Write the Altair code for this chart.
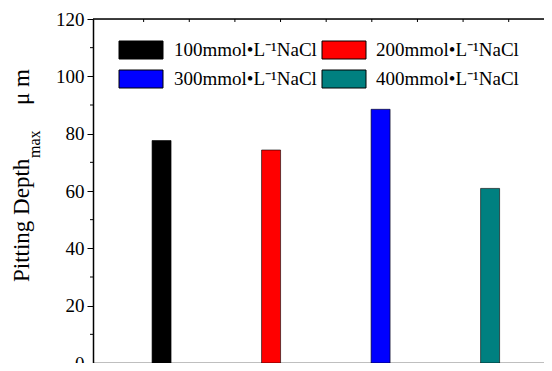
import altair as alt
import pandas as pd

categories = ["100mmol•L⁻¹NaCl", "200mmol•L⁻¹NaCl", "300mmol•L⁻¹NaCl", "400mmol•L⁻¹NaCl"]
positions = [1, 2, 3, 4]
depths = [77.6, 74.3, 88.5, 60.9]
colors = ["#000000", "#FF0000", "#0000FF", "#008080"]
y_ticks = [0, 20, 40, 60, 80, 100, 120]
y_minor = [10, 30, 50, 70, 90, 110]

FONT = "Liberation Serif"
PAD_L, PAD_T = 85, 11
W, H = 536 - PAD_L, 344
px_per_unit = 112.0
x0 = 1 - 65 / px_per_unit
x1 = x0 + W / px_per_unit
step = 46.67 / px_per_unit
x_major = [x0 + step * k for k in range(1, 10)]
x_minor = [x0 + step * (k + 0.5) for k in range(0, 10)]

df = pd.DataFrame({"cat": categories, "pos": positions, "depth": depths})

xscale = alt.Scale(domain=[x0, x1], nice=False, zero=False)
yscale = alt.Scale(domain=[0, 120], nice=False)

bars = alt.Chart(df).mark_bar(size=19, stroke="black", strokeWidth=1, strokeOpacity=0.6).encode(
    x=alt.X("pos:Q", scale=xscale,
            axis=alt.Axis(values=sorted(x_major + x_minor), labels=False, title=None, grid=False,
                          tickSize=3, tickColor="#333", domainColor="black", domainWidth=1.5)),
    y=alt.Y("depth:Q", scale=yscale,
            axis=alt.Axis(values=y_ticks, title=None, grid=False, tickSize=6, tickColor="black",
                          domainColor="black", domainWidth=1.5, labelFont=FONT, labelFontSize=19,
                          labelColor="black", labelPadding=3)),
    color=alt.Color("cat:N", scale=alt.Scale(domain=categories, range=colors), legend=None),
)

one = pd.DataFrame({"a": [0]})

top_line = alt.Chart(one).mark_rule(color="black", strokeWidth=1.5).encode(
    x=alt.value(0), x2=alt.value(W), y=alt.value(0))

top_ticks = alt.Chart(pd.DataFrame({"t": x_major})).mark_rule(color="black", strokeWidth=1).encode(
    x=alt.X("t:Q", scale=xscale), y=alt.value(0), y2=alt.value(3))

minor_y = alt.Chart(pd.DataFrame({"m": y_minor})).mark_rule(color="black", strokeWidth=1).encode(
    y=alt.Y("m:Q", scale=yscale), x=alt.value(-3), x2=alt.value(0))

layers = [bars, top_line, top_ticks, minor_y]

for i, (cat, col) in enumerate(zip(categories, colors)):
    c, r = i % 2, i // 2
    layers.append(alt.Chart(one).mark_rect(stroke="black", strokeWidth=1).encode(
        x=alt.value(26 + 203 * c), x2=alt.value(70 + 203 * c),
        y=alt.value(22 + 29 * r), y2=alt.value(40 + 29 * r),
        fill=alt.value(col)))
    layers.append(alt.Chart(one).mark_text(align="left", baseline="middle", font=FONT, fontSize=19,
                                           color="black").encode(
        x=alt.value(81 + 202 * c), y=alt.value(31 + 29 * r), text=alt.value(cat)))

title_main = alt.Chart(one).mark_text(angle=270, align="left", baseline="alphabetic", font=FONT,
                                      fontSize=23, color="black").encode(
    x=alt.value(-64), y=alt.value(263), text=alt.value("Pitting Depth"))
title_sub = alt.Chart(one).mark_text(angle=270, align="left", baseline="alphabetic", font=FONT,
                                     fontSize=16, color="black").encode(
    x=alt.value(-53), y=alt.value(139), text=alt.value("max"))
title_unit = alt.Chart(one).mark_text(angle=270, align="left", baseline="alphabetic", font=FONT,
                                      fontSize=23, color="black").encode(
    x=alt.value(-64), y=alt.value(86), text=alt.value("μ  m"))
layers += [title_main, title_sub, title_unit]

chart = alt.layer(*layers).properties(
    width=W, height=H,
    autosize=alt.AutoSizeParams(type="none"),
    padding={"left": PAD_L, "top": PAD_T, "right": 0, "bottom": 0},
).configure_view(stroke=None).configure(font=FONT).configure_axis(labelFont=FONT)

chart.save("out.html", embed_options={"renderer": "svg", "actions": False})
